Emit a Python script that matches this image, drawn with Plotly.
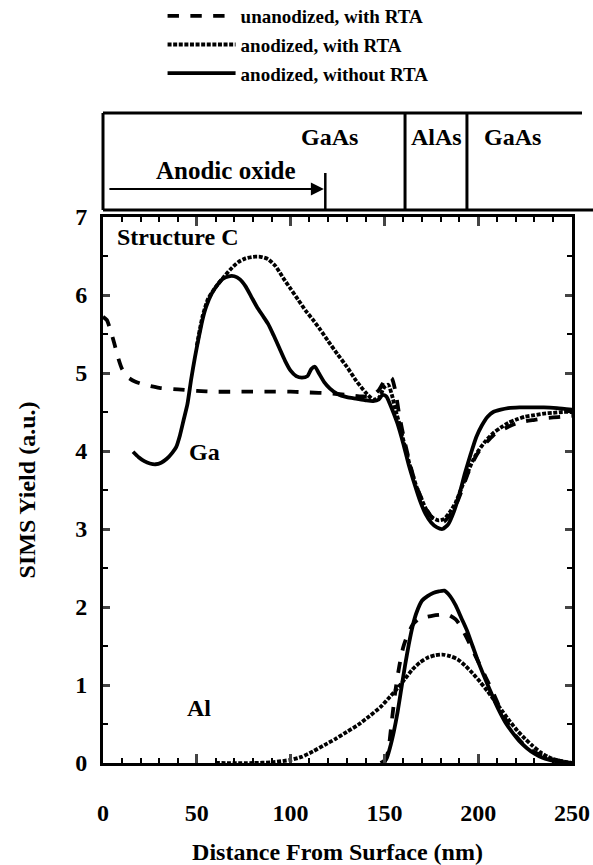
import plotly.graph_objects as go

# ---------------- data ----------------
series_names = ["unanodized, with RTA", "anodized, with RTA", "anodized, without RTA"]

# unanodized, with RTA (dashed)
ga_unan_x = [0, 2, 4, 6, 8, 10, 13, 17, 22, 30, 40, 50, 60, 70, 80, 90, 100, 110, 120, 130, 138, 143, 147,
             150, 152, 154, 156, 158, 161, 164, 167, 170, 173, 176, 179, 182, 185, 188, 191, 194, 197, 200,
             204, 208, 212, 216, 220, 225, 230, 235, 240, 245, 250]
ga_unan_y = [5.72, 5.68, 5.55, 5.38, 5.2, 5.06, 4.95, 4.89, 4.85, 4.81, 4.79, 4.77, 4.76, 4.76, 4.76, 4.76,
             4.76, 4.75, 4.74, 4.72, 4.70, 4.70, 4.78, 4.9, 4.95, 4.93, 4.75, 4.45, 4.1, 3.8, 3.55, 3.38,
             3.23, 3.13, 3.09, 3.1, 3.18, 3.3, 3.48, 3.68, 3.85, 3.98, 4.1, 4.2, 4.26, 4.31, 4.35, 4.38,
             4.4, 4.42, 4.43, 4.44, 4.45]
al_unan_x = [150, 152, 154, 156, 158, 160, 162, 165, 168, 172, 176, 180, 184, 188, 191, 194, 197, 200, 204,
             208, 212, 216, 220, 225, 230, 235, 240, 245, 250]
al_unan_y = [0.0, 0.15, 0.55, 0.95, 1.25, 1.48, 1.62, 1.77, 1.84, 1.87, 1.89, 1.9, 1.9, 1.84, 1.74, 1.6,
             1.45, 1.3, 1.1, 0.9, 0.68, 0.5, 0.35, 0.22, 0.14, 0.09, 0.05, 0.02, 0.0]

# anodized, with RTA (dotted)
ga_anrta_x = [50, 53, 56, 60, 64, 68, 72, 76, 80, 84, 88, 92, 96, 100, 104, 108, 112, 116, 120, 125, 130,
              135, 140, 144, 147, 150, 152, 154, 156, 158, 161, 164, 167, 170, 173, 176, 179, 182, 185, 188,
              191, 194, 197, 200, 204, 208, 212, 216, 220, 225, 230, 235, 240, 245, 250]
ga_anrta_y = [5.35, 5.72, 5.95, 6.1, 6.22, 6.33, 6.42, 6.47, 6.49, 6.49, 6.46, 6.37, 6.22, 6.08, 5.94, 5.8,
              5.68, 5.55, 5.41, 5.24, 5.08, 4.9, 4.75, 4.66, 4.68, 4.82, 4.85, 4.72, 4.52, 4.35, 4.05, 3.78,
              3.55, 3.37, 3.22, 3.14, 3.11, 3.13, 3.22, 3.34, 3.52, 3.7, 3.87, 4.0, 4.13, 4.23, 4.3, 4.36,
              4.4, 4.44, 4.46, 4.48, 4.49, 4.5, 4.5]
al_anrta_x = [60, 80, 90, 100, 106, 112, 118, 124, 130, 136, 142, 148, 153, 157, 161, 165, 169, 173, 177,
              181, 185, 189, 193, 197, 201, 205, 209, 213, 217, 221, 225, 229, 233, 237, 241, 245, 250]
al_anrta_y = [0.0, 0.0, 0.01, 0.04, 0.08, 0.15, 0.23, 0.31, 0.4, 0.49, 0.6, 0.72, 0.85, 0.96, 1.08, 1.2,
              1.29, 1.35, 1.38, 1.39, 1.37, 1.33, 1.25, 1.15, 1.04, 0.92, 0.79, 0.66, 0.53, 0.41, 0.31,
              0.22, 0.14, 0.08, 0.04, 0.02, 0.0]

# anodized, without RTA (solid)
ga_an_x = [16, 19, 22, 25, 28, 31, 34, 37, 39, 41, 43, 45, 47, 49, 51, 53, 55, 58, 61, 64, 67, 70, 73, 76,
           79, 82, 85, 88, 91, 94, 97, 100, 103, 106, 109, 111, 113, 115, 118, 121, 125, 130, 135, 140, 144,
           147, 149, 151, 153, 155, 157, 160, 163, 166, 169, 172, 175, 178, 181, 184, 187, 190, 193, 196,
           199, 202, 205, 208, 212, 216, 222, 228, 235, 242, 250]
ga_an_y = [3.99, 3.92, 3.87, 3.84, 3.83, 3.85, 3.9, 3.98, 4.05, 4.2, 4.4, 4.6, 4.92, 5.2, 5.45, 5.68, 5.85,
           6.02, 6.13, 6.21, 6.24, 6.24, 6.2, 6.11, 5.98, 5.85, 5.74, 5.63, 5.48, 5.32, 5.16, 5.03, 4.96,
           4.94, 4.96, 5.05, 5.08, 5.0, 4.88, 4.8, 4.73, 4.69, 4.67, 4.65, 4.64, 4.66, 4.72, 4.7, 4.6, 4.48,
           4.35, 4.1, 3.82, 3.58, 3.36, 3.19, 3.08, 3.02, 3.0, 3.06, 3.22, 3.45, 3.72, 3.96, 4.18, 4.33,
           4.44, 4.5, 4.53, 4.55, 4.56, 4.56, 4.56, 4.55, 4.53]
al_an_x = [148, 151, 153, 155, 157, 159, 161, 163, 165, 167, 170, 173, 176, 179, 182, 185, 188, 191, 194,
           197, 200, 203, 206, 209, 212, 215, 218, 222, 226, 230, 234, 238, 242, 246, 250]
al_an_y = [0.0, 0.05, 0.2, 0.4, 0.65, 0.95, 1.25, 1.52, 1.75, 1.92, 2.08, 2.14, 2.18, 2.2, 2.21, 2.14, 2.02,
           1.86, 1.7, 1.5, 1.3, 1.12, 0.95, 0.78, 0.63, 0.5, 0.4, 0.28, 0.19, 0.12, 0.07, 0.04, 0.02, 0.01,
           0.0]

x_ticks = [0, 50, 100, 150, 200, 250]
y_ticks = [0, 1, 2, 3, 4, 5, 6, 7]

# layer structure (nm)
oxide_end = 118.5
alas_start = 161
alas_end = 194
layer_labels = ["GaAs", "AlAs", "GaAs"]
layer_label_pos = [120.5, 178, 218.5]

# ---------------- figure ----------------
FONT = "Liberation Serif"
X_MAX = 250.0
dash_styles = ["dash", "4px,1.6px", "solid"]
LW = 3.8

fig = go.Figure()
ga_sets = [(ga_unan_x, ga_unan_y), (ga_anrta_x, ga_anrta_y), (ga_an_x, ga_an_y)]
al_sets = [(al_unan_x, al_unan_y), (al_anrta_x, al_anrta_y), (al_an_x, al_an_y)]
for i, name in enumerate(series_names):
    gx, gy = ga_sets[i]
    ax_, ay_ = al_sets[i]
    fig.add_trace(go.Scatter(x=gx, y=gy, mode="lines", name=name, legendgroup=name,
                             line=dict(color="black", width=LW, dash=dash_styles[i], shape="spline",
                                       smoothing=0.6)))
    fig.add_trace(go.Scatter(x=ax_, y=ay_, mode="lines", name=name, legendgroup=name, showlegend=False,
                             line=dict(color="black", width=LW, dash=dash_styles[i], shape="spline",
                                       smoothing=0.6)))

axis_font = dict(family=FONT, size=24, color="black", weight="bold")

fig.update_xaxes(range=[0, X_MAX], tickvals=x_ticks, ticks="inside", ticklen=9, tickwidth=2.5,
                 showline=True, linewidth=3, linecolor="black", mirror="ticks", showgrid=False,
                 zeroline=False, tickfont=axis_font, ticklabelstandoff=26,
                 minor=dict(dtick=10, ticks="inside", ticklen=5, tickwidth=2, tickcolor="black"),
                 title=dict(text="Distance From Surface (nm)", font=axis_font, standoff=19))
fig.update_yaxes(range=[0, 7], tickvals=y_ticks, ticks="inside", ticklen=7, tickwidth=2.5,
                 showline=True, linewidth=3, linecolor="black", mirror="ticks", showgrid=False,
                 zeroline=False, tickfont=axis_font, ticklabelstandoff=8,
                 minor=dict(dtick=0.5, ticks="inside", ticklen=5, tickwidth=2, tickcolor="black"),
                 title=dict(text="SIMS Yield (a.u.)", font=axis_font, standoff=33))

# structure box (paper coords; plot area is 0..1)
top_y = 1.1905
bot_y = 1.0128
shapes = []
line = dict(color="black", width=3)
shapes.append(dict(type="line", xref="paper", yref="paper", x0=0, x1=1.0213, y0=top_y, y1=top_y, line=line))
shapes.append(dict(type="line", xref="paper", yref="paper", x0=0, x1=1.0448, y0=bot_y, y1=bot_y, line=line))
shapes.append(dict(type="line", xref="paper", yref="paper", x0=0, x1=0, y0=bot_y, y1=top_y, line=line))
for b in (alas_start, alas_end):
    shapes.append(dict(type="line", xref="paper", yref="paper", x0=b / X_MAX, x1=b / X_MAX,
                       y0=bot_y, y1=top_y, line=line))
shapes.append(dict(type="line", xref="paper", yref="paper", x0=oxide_end / X_MAX, x1=oxide_end / X_MAX,
                   y0=bot_y, y1=1.0806, line=dict(color="black", width=2.5)))
fig.update_layout(shapes=shapes)

lab_font = dict(family=FONT, size=24, color="black", weight="bold")
annotations = []
for t, lx in zip(layer_labels, layer_label_pos):
    annotations.append(dict(text=t, xref="paper", yref="paper", x=lx / X_MAX, y=1.1465, showarrow=False,
                            font=lab_font, xanchor="center", yanchor="middle"))
annotations.append(dict(text="Anodic oxide", xref="paper", yref="paper", x=0.108, y=1.086, showarrow=False,
                        font=dict(family=FONT, size=25, color="black", weight="bold"),
                        xanchor="left", yanchor="middle"))
annotations.append(dict(text="", xref="paper", yref="paper", x=oxide_end / X_MAX - 0.003, y=1.0513,
                        showarrow=True, arrowhead=2, arrowsize=1.3, arrowwidth=2, arrowcolor="black",
                        ax=-216, ay=0))
annotations.append(dict(text="Structure C", xref="x", yref="y", x=6.4, y=6.74, showarrow=False,
                        font=lab_font, xanchor="left", yanchor="middle"))
annotations.append(dict(text="Ga", xref="x", yref="y", x=44.8, y=3.99, showarrow=False,
                        font=lab_font, xanchor="left", yanchor="middle"))
annotations.append(dict(text="Al", xref="x", yref="y", x=43.7, y=0.705, showarrow=False,
                        font=lab_font, xanchor="left", yanchor="middle"))
fig.update_layout(annotations=annotations)

fig.update_layout(
    width=593, height=865,
    margin=dict(l=103, r=21, t=217, b=102, autoexpand=False),
    paper_bgcolor="white", plot_bgcolor="white",
    font=dict(family=FONT, color="black"),
    showlegend=True,
    legend=dict(x=0.127, y=1.403, xanchor="left", yanchor="top", bgcolor="rgba(0,0,0,0)",
                font=dict(family=FONT, size=19, color="black", weight="bold"),
                itemwidth=68, tracegroupgap=1),
)

fig.write_html("out.html", config={"displayModeBar": False},
               post_script="document.body.style.margin='0px';document.body.style.overflow='hidden';")
